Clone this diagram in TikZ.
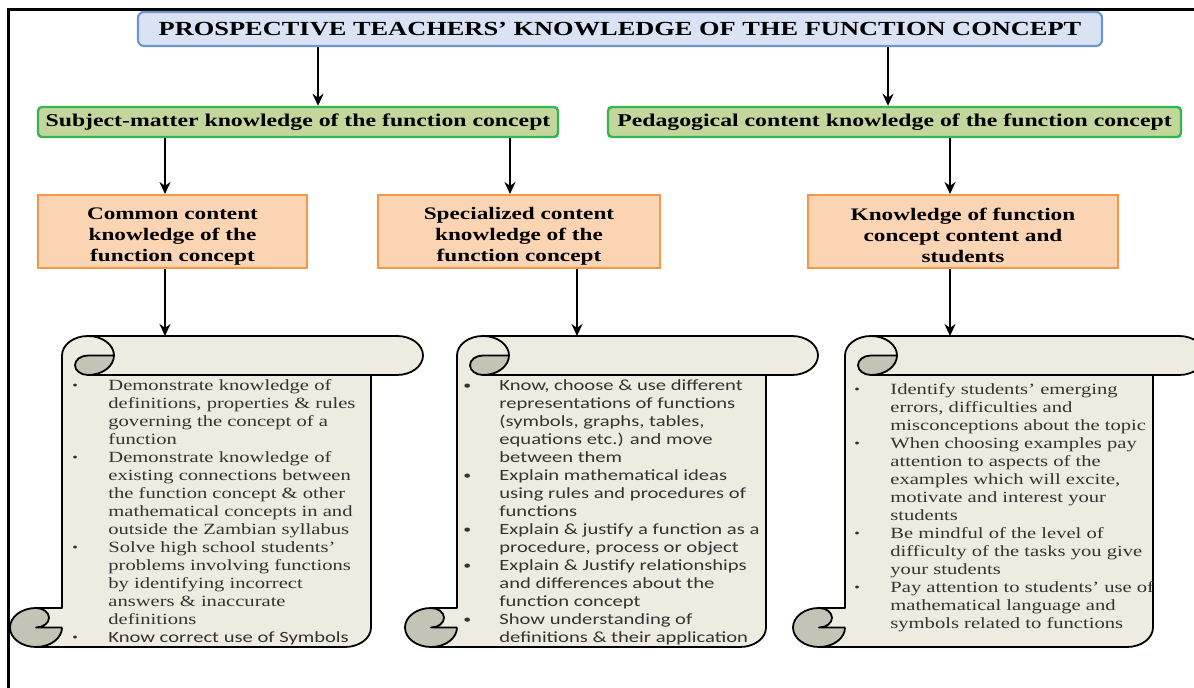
\documentclass[tikz,border=0pt]{standalone}
\usepackage{fontspec}
\setmainfont{Liberation Serif}[FakeStretch=1.32]
\newfontfamily\calibri{Carlito}[FakeStretch=1.32]
\usetikzlibrary{arrows.meta}

\definecolor{titlefill}{HTML}{DAE3F3}
\definecolor{titleline}{HTML}{7096D0}
\definecolor{smkfill}{HTML}{C3D69B}
\definecolor{smkline}{HTML}{33B54F}
\definecolor{ckfill}{HTML}{FBD4B4}
\definecolor{ckline}{HTML}{F79646}
\definecolor{paper}{HTML}{EEECE1}
\definecolor{curl}{HTML}{C4C4B6}

\tikzset{
  titlebox/.style={draw=titleline, fill=titlefill, line width=1.1pt, rounded corners=3pt,
    minimum width=482pt, minimum height=17pt, inner sep=0pt,
    font=\fontsize{10}{12}\selectfont\bfseries},
  kbox/.style={draw=smkline, fill=smkfill, line width=1.2pt, rounded corners=2pt,
    minimum height=15pt, inner sep=0pt, font=\fontsize{9}{11}\selectfont\bfseries},
  cbox/.style={draw=ckline, fill=ckfill, line width=1pt, minimum height=36.5pt,
    inner sep=0pt, align=center, font=\fontsize{8.8}{10.5}\selectfont\bfseries},
  arr/.style={line width=1.2pt, -{Stealth[length=6pt,width=5.5pt]}},
  list/.style={anchor=north west, inner sep=0pt, align=left, text=black!80,
    font=\fontsize{7.8}{9}\selectfont},
  scrollline/.style={line width=0.9pt, line join=round}
}

% strut for the orange boxes, bullet and hanging indent for the lists
\newcommand{\tstrut}{\rule{0pt}{10.5pt}}
\newcommand{\bul}{\makebox[18pt][l]{\raisebox{0.6pt}{\fontsize{6}{6}\selectfont\textbullet}}}
\newcommand{\ind}{\hspace*{18pt}}

% scroll between left edge #1 and right edge #2
\newcommand{\scrollshape}[2]{%
  \fill[paper] ({#1+52},608) -- ({#1+52},355.5)
    arc[start angle=180, end angle=270, x radius=26, y radius=19.5] -- ({#2-26},336)
    arc[start angle=270, end angle=450, x radius=26, y radius=19.5] -- ({#2-52},375)
    -- ({#2-52},627.5)
    arc[start angle=0, end angle=90, x radius=26, y radius=19.5] -- ({#1+26},647)
    arc[start angle=90, end angle=270, x radius=26, y radius=19.5] -- cycle;
  \fill[curl] ({#1+104},355.5)
    arc[start angle=0, end angle=90, x radius=26, y radius=19.5]
    arc[start angle=90, end angle=270, x radius=13, y radius=9.75] -- cycle;
  \fill[curl] ({#1+26},608)
    arc[start angle=270, end angle=450, x radius=13, y radius=9.75] -- ({#1+52},627.5)
    arc[start angle=0, end angle=270, x radius=26, y radius=19.5] -- cycle;
  \draw[scrollline] ({#1+52},608) -- ({#1+52},355.5)
    arc[start angle=180, end angle=270, x radius=26, y radius=19.5] -- ({#2-26},336)
    arc[start angle=270, end angle=450, x radius=26, y radius=19.5] -- ({#2-52},375)
    -- ({#2-52},627.5)
    arc[start angle=0, end angle=90, x radius=26, y radius=19.5] -- ({#1+26},647)
    arc[start angle=90, end angle=270, x radius=26, y radius=19.5] -- cycle;
  \draw[scrollline] ({#1+78},336)
    arc[start angle=270, end angle=450, x radius=26, y radius=19.5]
    arc[start angle=90, end angle=270, x radius=13, y radius=9.75] -- ({#1+104},355.5);
  \draw[scrollline] ({#2-52},375) -- ({#1+78},375);
  \draw[scrollline] ({#1+26},608)
    arc[start angle=270, end angle=450, x radius=13, y radius=9.75] -- ({#1+52},627.5);
  \draw[scrollline] ({#1+26},647)
    arc[start angle=90, end angle=0, x radius=26, y radius=19.5];
}

\begin{document}
\begin{tikzpicture}[x=0.5pt, y=-0.5pt]
  \useasboundingbox (0,0) rectangle (1194,688);
  \clip (0,0) rectangle (1194,688);
  \draw[line width=1.5pt] (8,700) |- (1200,10);

  % knowledge headings
  \node[titlebox] (pt) at (620,29) {PROSPECTIVE TEACHERS' KNOWLEDGE OF THE FUNCTION CONCEPT};
  \node[kbox, minimum width=260pt] (smk) at (298,122) {Subject-matter knowledge of the function concept};
  \node[kbox, minimum width=286.5pt] (pck) at (894.5,122) {Pedagogical content knowledge of the function concept};
  \node[cbox, minimum width=134.5pt] (cck) at (172.5,231.5) {\tstrut Common content\\knowledge of the\\function concept};
  \node[cbox, minimum width=141pt] (sck) at (519,231.5) {\tstrut Specialized content\\knowledge of the\\function concept};
  \node[cbox, minimum width=155pt] (kcs) at (963,231.5) {\tstrut Knowledge of function\\concept content and\\students};

  % scrolls
  \scrollshape{10}{423}
  \scrollshape{405}{818}
  \scrollshape{793}{1205}

  \node[list] (cckl) at (72,379) {%
    \bul Demonstrate knowledge of\\
    \ind definitions, properties \& rules\\
    \ind governing the concept of a\\
    \ind function\\
    \bul Demonstrate knowledge of\\
    \ind existing connections between\\
    \ind the function concept \& other\\
    \ind mathematical concepts in and\\
    \ind outside the Zambian syllabus\\
    \bul Solve high school students'\\
    \ind problems involving functions\\
    \ind by identifying incorrect\\
    \ind answers \& inaccurate\\
    \ind definitions\\
    \bul {\calibri Know correct use of Symbols}};
  \node[list, font=\calibri\fontsize{7.8}{9}\selectfont] (sckl) at (463,379) {%
    \bul Know, choose \& use different\\
    \ind representations of functions\\
    \ind (symbols, graphs, tables,\\
    \ind equations etc.) and move\\
    \ind between them\\
    \bul Explain mathematical ideas\\
    \ind using rules and procedures of\\
    \ind functions\\
    \bul Explain \& justify a function as a\\
    \ind procedure, process or object\\
    \bul Explain \& Justify relationships\\
    \ind and differences about the\\
    \ind function concept\\
    \bul Show understanding of\\
    \ind definitions \& their application};
  \node[list] (kcsl) at (854,383) {%
    \bul Identify students' emerging\\
    \ind errors, difficulties and\\
    \ind misconceptions about the topic\\
    \bul When choosing examples pay\\
    \ind attention to aspects of the\\
    \ind examples which will excite,\\
    \ind motivate and interest your\\
    \ind students\\
    \bul Be mindful of the level of\\
    \ind difficulty of the tasks you give\\
    \ind your students\\
    \bul Pay attention to students' use of\\
    \ind mathematical language and\\
    \ind symbols related to functions};

  % arrow guides
  \coordinate (x1) at (318,0);
  \coordinate (x2) at (888,0);
  \coordinate (x3) at (165,0);
  \coordinate (x4) at (510,0);
  \coordinate (x5) at (950,0);
  \coordinate (sc1) at (165,336);
  \coordinate (sc2) at (577,336);
  \coordinate (sc3) at (950,336);

  \draw[arr] (pt.south -| x1) -- (smk.north -| x1);
  \draw[arr] (pt.south -| x2) -- (pck.north -| x2);
  \draw[arr] (smk.south -| x3) -- (cck.north -| x3);
  \draw[arr] (smk.south -| x4) -- (sck.north -| x4);
  \draw[arr] (pck.south -| x5) -- (kcs.north -| x5);
  \draw[arr] (cck.south -| sc1) -- (sc1);
  \draw[arr] (sck.south -| sc2) -- (sc2);
  \draw[arr] (kcs.south -| sc3) -- (sc3);
\end{tikzpicture}
\end{document}
